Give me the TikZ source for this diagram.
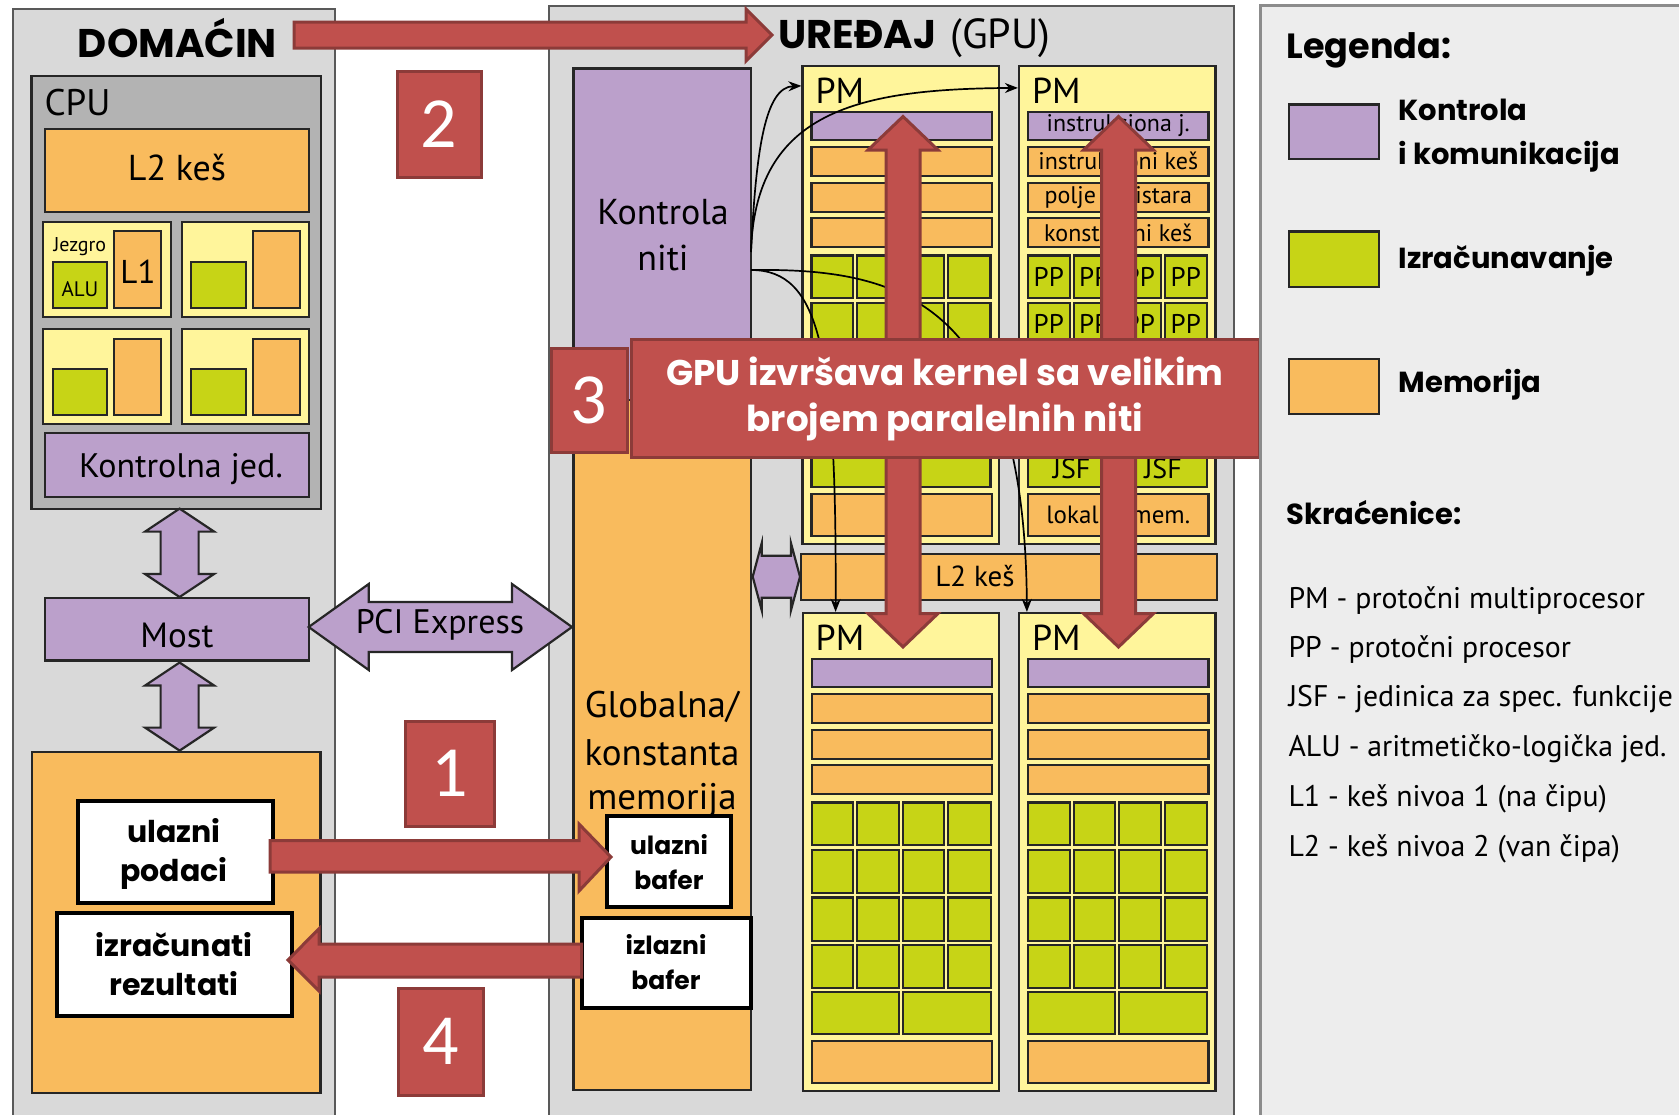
\documentclass[tikz,border=0pt]{standalone}
\usepackage{fontspec}
\setmainfont{PT Sans}
\newfontfamily\geo{Poppins}
\newfontfamily\calib{Carlito}
\usetikzlibrary{arrows.meta,calc}
\definecolor{pgray}{HTML}{D9D9D9}
\definecolor{cpugray}{HTML}{B3B3B3}
\definecolor{lgray}{HTML}{EDEDED}
\definecolor{orng}{HTML}{F9BB5D}
\definecolor{ylw}{HTML}{FFF59B}
\definecolor{grn}{HTML}{C7D416}
\definecolor{prp}{HTML}{BBA0CB}
\definecolor{rd}{HTML}{C0504D}
\definecolor{rdd}{HTML}{8C3B39}
\definecolor{bdr}{HTML}{262626}
\newcommand\fs[1]{\fontsize{#1}{#1}\selectfont}
\newcommand\geob{\geo\bfseries}
% box: style, x1, y1, x2, y2, name, text
\newcommand\bx[7]{\node[#1,minimum width={(#4)-(#2)},minimum height={(#5)-(#3)},inner sep=0pt] (#6) at ({((#2)+(#4))/2},{((#3)+(#5))/2}) {#7};}
\newcommand\pmunit[3]{%
 \bx{yb}{#2}{#3}{#2+196.5}{#3+477.7}{#1}{}%
 \node[anchor=base west,font=\fs{36}] (#1-t) at ({#2+9.5},{#3+37}) {PM};%
 \bx{pb}{#2+9}{#3+46}{#2+189.5}{#3+74}{#1-c}{}%
 \bx{ob}{#2+9}{#3+80.6}{#2+189.5}{#3+110}{#1-o1}{}%
 \bx{ob}{#2+9}{#3+116.6}{#2+189.5}{#3+145.6}{#1-o2}{}%
 \bx{ob}{#2+9}{#3+152}{#2+189.5}{#3+181}{#1-o3}{}%
 \foreach \rr/\ya/\yz in {1/189.4/231.8,2/236.8/279.9,3/284.5/327.6,4/332/375}{%
  \foreach \cc/\xa/\xz in {1/9/50.6,2/54.6/96,3/100/141.6,4/145.6/188}{%
   \bx{gb}{#2+\xa}{#3+\ya}{#2+\xz}{#3+\yz}{#1-g\rr\cc}{}%
  }}%
 \bx{gb}{#2+9}{#3+378.8}{#2+96.3}{#3+421}{#1-s1}{}%
 \bx{gb}{#2+100}{#3+378.8}{#2+188}{#3+421}{#1-s2}{}%
 \bx{ob}{#2+9}{#3+428}{#2+189.5}{#3+470}{#1-m}{}%
}
% vertical double block arrow: cx, ytop, ybot, shaft half, head half, head len, style
\newcommand\vdarrow[7]{\draw[#7] ({#1-#4},{#2+#6}) -- ({#1-#5},{#2+#6}) -- ({#1},{#2}) -- ({#1+#5},{#2+#6}) -- ({#1+#4},{#2+#6}) -- ({#1+#4},{#3-#6}) -- ({#1+#5},{#3-#6}) -- ({#1},{#3}) -- ({#1-#5},{#3-#6}) -- ({#1-#4},{#3-#6}) -- cycle;}
% horizontal double block arrow: cy, xleft, xright, shaft half, head half, head len, style
\newcommand\hdarrow[7]{\draw[#7] ({#2+#6},{#1-#4}) -- ({#2+#6},{#1-#5}) -- ({#2},{#1}) -- ({#2+#6},{#1+#5}) -- ({#2+#6},{#1+#4}) -- ({#3-#6},{#1+#4}) -- ({#3-#6},{#1+#5}) -- ({#3},{#1}) -- ({#3-#6},{#1-#5}) -- ({#3-#6},{#1-#4}) -- cycle;}
\tikzset{
 panel/.style={draw=black!65, fill=pgray, line width=2pt},
 lpanel/.style={draw=black!45, fill=lgray, line width=2.5pt},
 cpub/.style={draw=bdr, fill=cpugray, line width=2.5pt},
 ob/.style={draw=bdr, fill=orng, line width=2.2pt},
 yb/.style={draw=bdr, fill=ylw, line width=2.2pt},
 gb/.style={draw=bdr, fill=grn, line width=2.2pt},
 pb/.style={draw=bdr, fill=prp, line width=2.2pt},
 wb/.style={draw=black, fill=white, line width=4pt},
 redshape/.style={draw=rdd, fill=rd, line width=3pt, line join=miter},
 prpshape/.style={draw=bdr, fill=prp, line width=2.2pt, line join=miter},
 numbox/.style={draw=rdd, fill=rd, line width=3pt, text=white, font=\calib\fs{72}},
 thinarr/.style={draw=black, line width=1.7pt, -{Stealth[length=13pt,width=10pt]}},
}
\begin{document}
\begin{tikzpicture}[x=1pt,y=-1pt]
\useasboundingbox (0,0) rectangle (1679,1114);
\fill[white] (0,0) rectangle (1679,1114);
% ---------------- HOST ----------------
\bx{panel}{13}{9}{335}{1130}{host}{}
\node[anchor=base,font=\geob\fs{40}] (domacin) at (177.5,57) {DOMAĆIN};
\bx{cpub}{31.4}{76}{321}{509}{cpu}{}
\node[anchor=base west,font=\fs{37}] (cpulbl) at (41,115) {CPU};
\bx{ob}{44.6}{129}{309}{212}{cl2}{}
\node[anchor=base,font=\fs{36}] (cl2t) at (177,180) {L2 keš};
\bx{yb}{43}{222}{171}{317}{core1}{}
\bx{gb}{53}{262}{107}{308}{alu1}{}
\bx{ob}{114}{231}{161}{308}{l11}{}
\node[anchor=base west,font=\fs{20}] (jez) at (50,251) {Jezgro};
\node[anchor=base,font=\fs{21}] (alut) at (80,296) {ALU};
\node[anchor=base,font=\fs{33}] (l1t) at (138,283) {L1};
\bx{yb}{182}{222}{309}{317}{core2}{}
\bx{gb}{191}{262}{246}{308}{alu2}{}
\bx{ob}{253}{231}{300}{308}{l12}{}
\bx{yb}{43}{329}{171}{424}{core3}{}
\bx{gb}{53}{369}{107}{415}{alu3}{}
\bx{ob}{114}{339}{161}{415}{l13}{}
\bx{yb}{182}{329}{309}{424}{core4}{}
\bx{gb}{191}{369}{246}{415}{alu4}{}
\bx{ob}{253}{339}{300}{415}{l14}{}
\bx{pb}{44.6}{433}{309}{497}{kj}{}
\node[anchor=base,font=\fs{34}] (kjt) at (181,477) {Kontrolna jed.};
\vdarrow{179.6}{508.6}{597}{19}{34.5}{23}{prpshape}
\bx{pb}{45}{598}{308.7}{660.5}{most}{}
\node[anchor=base,font=\fs{35}] (mostt) at (177,647) {Most};
\vdarrow{179.6}{662.5}{750.6}{19}{34.5}{23}{prpshape}
\bx{ob}{31.6}{751.8}{320.4}{1093}{hmem}{}
\bx{wb}{77.6}{800.7}{273}{903}{ulp}{}
\node[anchor=base,font=\geob\fs{30}] (ulp1) at (174,842.6) {ulazni};
\node[anchor=base,font=\geob\fs{30}] (ulp2) at (174,881) {podaci};
\bx{wb}{57}{913}{292}{1016}{izr}{}
\node[anchor=base,font=\geob\fs{30}] (izr1) at (174,956) {izračunati};
\node[anchor=base,font=\geob\fs{30}] (izr2) at (174,995) {rezultati};
% ---------------- GPU ----------------
\bx{panel}{549}{6}{1234}{1130}{gpu}{}
\node[anchor=base west,font=\geob\fs{40}] (ured) at (775,48) {UREĐAJ};
\node[anchor=base west,font=\fs{42}] (gput) at (ured.base east) {\,(GPU)};
\bx{pb}{573.5}{68.5}{751}{400}{kn}{}
\node[anchor=base,font=\fs{36}] (kn1) at (663,224) {Kontrola};
\node[anchor=base,font=\fs{36}] (kn2) at (663,270) {niti};
\bx{ob}{573.5}{400}{751}{1090}{gm}{}
\node[anchor=base,font=\fs{37}] (gm1) at (662,717) {Globalna/};
\node[anchor=base,font=\fs{37}] (gm2) at (662,765.5) {konstanta};
\node[anchor=base,font=\fs{37}] (gm3) at (662,809) {memorija};
\bx{wb}{607}{816}{730.6}{907}{ub}{}
\node[anchor=base,font=\geob\fs{25}] (ub1) at (669,854) {ulazni};
\node[anchor=base,font=\geob\fs{25}] (ub2) at (669,889) {bafer};
\bx{wb}{581.6}{918}{751}{1008}{ib}{}
\node[anchor=base,font=\geob\fs{25}] (ib1) at (666,954) {izlazni};
\node[anchor=base,font=\geob\fs{25}] (ib2) at (666,989) {bafer};
% PCI express
\hdarrow{627}{308.7}{572}{25}{43}{60}{prpshape}
\node[font=\fs{34}] (pcie) at (440,625) {PCI Express};
\pmunit{pm1}{802.5}{66}
\pmunit{pm2}{1019}{66}
\pmunit{pm3}{802.7}{613}
\pmunit{pm4}{1019}{613}
\bx{ob}{800.7}{554}{1216.7}{600}{gl2}{}
\node[anchor=base,font=\fs{29}] (gl2t) at (975,586.5) {L2 keš};
\hdarrow{576.7}{752.7}{800}{21}{33.5}{9}{prpshape}
% PM2 labels
\node[font=\fs{24}] at (pm2-c) {instrukciona j.};
\node[font=\fs{24}] at (pm2-o1) {instrukcioni keš};
\node[font=\fs{24}] at (pm2-o2) {polje registara};
\node[font=\fs{24}] at (pm2-o3) {konstantni keš};
\foreach \rr in {1,2}{\foreach \cc in {1,2,3,4}{\node[font=\fs{27}] at (pm2-g\rr\cc) {PP};}}
\node[anchor=base,font=\fs{28}] at ($(pm2-s1.south)+(0,-10)$) {JSF};
\node[anchor=base,font=\fs{28}] at ($(pm2-s2.south)+(0,-10)$) {JSF};
\node[font=\fs{25}] at (pm2-m) {lokalna mem.};
% thin black connectors
\coordinate (k1) at (751,252);
\coordinate (k2) at (751,270);
\draw[thinarr] (k1) .. controls (756,150) and (765,87) .. ($(pm1.north west)+(0,21)$);
\draw[thinarr] (k1) .. controls (755,110) and (860,89) .. ($(pm2.north west)+(0,23)$);
\draw[thinarr] (k2) .. controls (820,270) and (836.7,350) .. ($(pm3.north west)+(34,0)$);
\draw[thinarr] (k2) .. controls (900,268) and (1025,300) .. ($(pm4.north west)+(9,0)$);
% red vertical double arrows
\vdarrow{903}{116.5}{647}{17}{35}{33.5}{redshape}
\vdarrow{1118.5}{116.5}{647}{17}{35}{33.5}{redshape}
% banner 3
\bx{numbox}{551}{348}{627}{452.6}{n3}{3}
\bx{redshape}{631.5}{339}{1259}{457}{banner}{}
\node[anchor=base,text=white,font=\geob\fs{35.7}] (bt1) at (945,385) {GPU izvršava kernel sa velikim};
\node[anchor=base,text=white,font=\geob\fs{35.7}] (bt2) at (945,431) {brojem paralelnih niti};
% red step arrows and numbers
\draw[redshape] (294,22) -- (746,22) -- (746,9) -- (772,35) -- (746,61) -- (746,48) -- (294,48) -- cycle;
\bx{numbox}{397}{71}{481}{177}{n2}{2}
\draw[redshape] (270,840.6) -- (579,840.6) -- (579,824) -- (611,857) -- (579,891) -- (579,872) -- (270,872) -- cycle;
\bx{numbox}{405.6}{721}{494}{826}{n1}{1}
\draw[redshape] (581.6,944) -- (319,944) -- (319,928.7) -- (288,960) -- (319,991) -- (319,977) -- (581.6,977) -- cycle;
\bx{numbox}{398}{988.6}{483.7}{1095}{n4}{4}
% ---------------- LEGEND ----------------
\bx{lpanel}{1260.7}{5.7}{1700}{1130}{legend}{}
\node[anchor=base west,font=\geob\fs{35}] (leg) at (1283,58) {Legenda:};
\bx{pb}{1289}{104.4}{1379}{159}{sw1}{}
\node[anchor=base west,font=\geob\fs{29}] (sw1a) at (1395,120.7) {Kontrola};
\node[anchor=base west,font=\geob\fs{29}] (sw1b) at (1395,164.8) {i komunikacija};
\bx{gb}{1289}{231.5}{1379}{287}{sw2}{}
\node[anchor=base west,font=\geob\fs{29}] (sw2a) at (1395,268.5) {Izračunavanje};
\bx{ob}{1289}{358.7}{1379}{414}{sw3}{}
\node[anchor=base west,font=\geob\fs{29}] (sw3a) at (1395,392.8) {Memorija};
\node[anchor=base west,font=\geob\fs{29}] (skr) at (1283,524) {Skraćenice:};
\node[anchor=base west,font=\fs{29.8}] (ab1) at (1285,608.7) {PM - protočni multiprocesor};
\node[anchor=base west,font=\fs{29.8}] (ab2) at (1285,657) {PP - protočni procesor};
\node[anchor=base west,font=\fs{29.8}] (ab3) at (1285,706.7) {JSF - jedinica za spec. funkcije};
\node[anchor=base west,font=\fs{29.8}] (ab4) at (1285,756) {ALU - aritmetičko-logička jed.};
\node[anchor=base west,font=\fs{29.8}] (ab5) at (1285,806) {L1 - keš nivoa 1 (na čipu)};
\node[anchor=base west,font=\fs{29.8}] (ab6) at (1285,856) {L2 - keš nivoa 2 (van čipa)};
\end{tikzpicture}
\end{document}
